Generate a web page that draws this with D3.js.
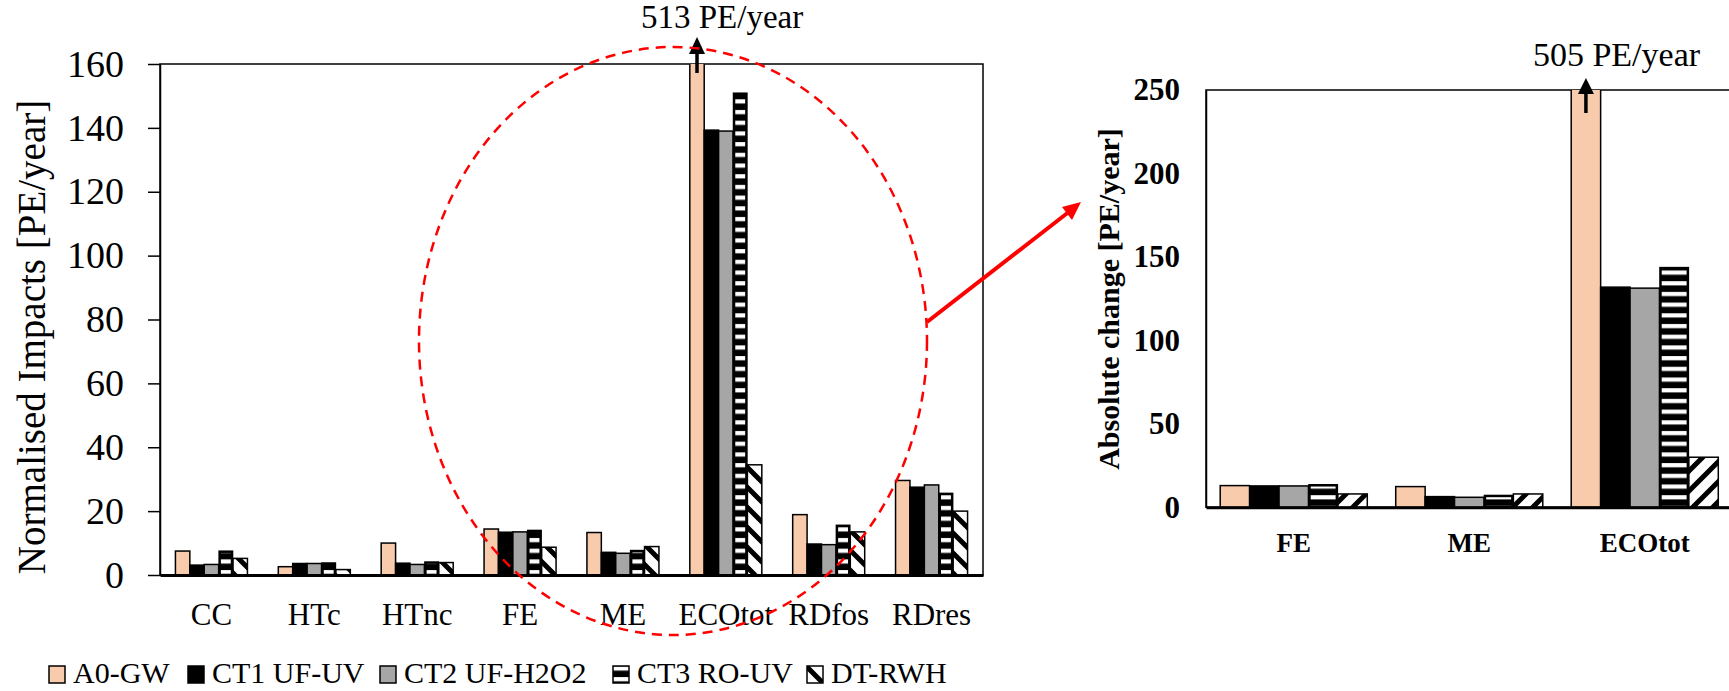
<!DOCTYPE html>
<html>
<head>
<meta charset="utf-8">
<script src="https://cdn.jsdelivr.net/npm/d3@7"></script>
<style>
  body { margin: 0; background: #fff; }
  text { font-family: "Liberation Serif", "Times New Roman", serif; }
</style>
</head>
<body>
<script>
// Normalised impacts (left) and absolute change (right) per scenario

const seriesNames = ["A0-GW", "CT1 UF-UV", "CT2 UF-H2O2", "CT3 RO-UV", "DT-RWH"];

const leftCategories = ["CC", "HTc", "HTnc", "FE", "ME", "ECOtot", "RDfos", "RDres"];
const leftA0  = [7.5, 2.6, 10.0, 14.4, 13.3, 513, 18.9, 29.6];
const leftCT1 = [3.1, 3.6, 3.7, 13.4, 7.1, 139.3, 9.7, 27.5];
const leftCT2 = [3.3, 3.6, 3.3, 13.5, 6.8, 139.0, 9.5, 28.2];
const leftCT3 = [7.3, 3.6, 3.9, 13.8, 7.5, 150.7, 15.4, 25.4];
const leftDT  = [5.2, 1.7, 3.9, 8.7, 8.9, 34.5, 13.5, 20.0];
const leftTicks = [0, 20, 40, 60, 80, 100, 120, 140, 160];

const rightCategories = ["FE", "ME", "ECOtot"];
const rightA0  = [13.0, 12.4, 505];
const rightCT1 = [12.8, 6.4, 131.9];
const rightCT2 = [12.8, 6.0, 131.3];
const rightCT3 = [13.2, 6.8, 143.3];
const rightDT  = [8.0, 8.0, 30.0];
const rightTicks = [0, 50, 100, 150, 200, 250];

const W = 1729, H = 691;
const svg = d3.select("body").append("svg").attr("width", W).attr("height", H);

// PATTERNS
const defs = svg.append("defs");
const hs = defs.append("pattern").attr("id", "hstripe")
  .attr("patternUnits", "userSpaceOnUse").attr("width", 10).attr("height", 10.7);
hs.append("rect").attr("width", 10).attr("height", 10.7).attr("fill", "#000");
hs.append("rect").attr("y", 3).attr("width", 10).attr("height", 4.2).attr("fill", "#fff");

function diag(id, back) {
  const p = defs.append("pattern").attr("id", id)
    .attr("patternUnits", "userSpaceOnUse").attr("width", 20).attr("height", 20);
  p.append("rect").attr("width", 20).attr("height", 20).attr("fill", "#fff");
  p.append("path")
    .attr("d", back ? "M0,0L20,20M-5,15L5,25M15,-5L25,5" : "M0,20L20,0M-5,5L5,-5M15,25L25,15")
    .attr("stroke", "#000").attr("stroke-width", 5);
}
diag("dback", true);
diag("dfwd", false);

function drawPanel(p) {
  const g = svg.append("g");
  const x0 = d3.scaleBand().domain(p.cats).range([p.left, p.right]);
  const bw = x0.bandwidth();
  const x1 = d3.scaleBand().domain(seriesNames).range([bw * p.groupPad, bw * (1 - p.groupPad)]);
  const y = d3.scaleLinear().domain([0, p.max]).range([p.bottom, p.top]);
  const fills = ["#F8CBAD", "#000", "#A6A6A6", "url(#hstripe)", "url(#" + p.dtPattern + ")"];

  // frame
  g.append("rect").attr("x", p.left).attr("y", p.top)
    .attr("width", p.right - p.left).attr("height", p.bottom - p.top)
    .attr("fill", "none").attr("stroke", "#000").attr("stroke-width", 1.5);

  // bars
  p.series.forEach((vals, si) => {
    vals.forEach((v, ci) => {
      const bx = x0(p.cats[ci]) + x1(seriesNames[si]);
      const w = x1.bandwidth();
      const clipped = v > p.max;
      const top = y(Math.min(v, p.max));
      const inset = si === 3 ? 1 : 0;
      g.append("rect").attr("x", bx + inset).attr("y", top)
        .attr("width", w - 2 * inset).attr("height", p.bottom - top)
        .attr("fill", fills[si])
        .attr("stroke", clipped ? "none" : "#000")
        .attr("stroke-width", si === 3 ? 2.5 : 1.5);
      if (clipped) {
        g.append("path")
          .attr("d", `M${bx},${top}V${p.bottom}H${bx + w}V${top}`)
          .attr("fill", "none").attr("stroke", "#000").attr("stroke-width", 1.5);
        const cx = bx + w / 2;
        g.append("line").attr("x1", cx).attr("x2", cx)
          .attr("y1", p.top + p.arrow.shaft).attr("y2", p.top + p.arrow.base)
          .attr("stroke", "#000").attr("stroke-width", 3.5);
        g.append("path")
          .attr("d", `M${cx},${p.top + p.arrow.tip}L${cx - 8},${p.top + p.arrow.base}L${cx + 8},${p.top + p.arrow.base}Z`)
          .attr("fill", "#000");
        g.append("text").attr("x", cx + p.arrow.textDx).attr("y", p.top + p.arrow.textDy)
          .style("font-size", p.arrow.fontSize + "px")
          .text(`${v} PE/year`);
      }
    });
  });

  // y axis
  const ya = g.append("g").attr("transform", `translate(${p.left},0)`)
    .call(d3.axisLeft(y).tickValues(p.ticks).tickSize(p.tickLen).tickSizeOuter(0).tickPadding(p.tickPad));
  ya.select(".domain").attr("stroke-width", 1.5);
  ya.selectAll(".tick line").attr("stroke-width", 1.5);
  ya.selectAll(".tick text")
    .style("font-family", "Liberation Serif").style("font-size", p.tickFont + "px")
    .style("font-weight", p.bold ? "bold" : "normal").attr("fill", "#000");

  // x axis
  const xa = g.append("g").attr("transform", `translate(0,${p.bottom})`)
    .call(d3.axisBottom(x0).tickSize(0).tickSizeOuter(0).tickPadding(p.xPad));
  xa.select(".domain").attr("stroke-width", 3);
  xa.selectAll(".tick text")
    .style("font-family", "Liberation Serif").style("font-size", p.xFont + "px")
    .style("font-weight", p.bold ? "bold" : "normal").attr("fill", "#000");

  // y title
  g.append("text")
    .attr("transform", `translate(${p.titleX},${p.titleY}) rotate(-90)`)
    .attr("text-anchor", "middle")
    .style("font-size", p.titleFont + "px")
    .style("font-weight", p.bold ? "bold" : "normal")
    .text(p.title);

  return { x0, y };
}

drawPanel({
  cats: leftCategories,
  series: [leftA0, leftCT1, leftCT2, leftCT3, leftDT],
  left: 160, right: 983, top: 64, bottom: 575, max: 160,
  groupPad: 0.15, dtPattern: "dback",
  ticks: leftTicks, tickLen: 12, tickPad: 24, tickFont: 38,
  xPad: 28, xFont: 31, bold: false,
  title: "Normalised Impacts [PE/year]", titleX: 45, titleY: 337, titleFont: 39,
  arrow: { shaft: 9, tip: -27, base: -10, textDx: -56, textDy: -36, fontSize: 33 }
});

drawPanel({
  cats: rightCategories,
  series: [rightA0, rightCT1, rightCT2, rightCT3, rightDT],
  left: 1206, right: 1732.5, top: 90, bottom: 507.3, max: 250,
  groupPad: 0.081, dtPattern: "dfwd",
  ticks: rightTicks, tickLen: 0, tickPad: 26, tickFont: 31,
  xPad: 26, xFont: 27, bold: true,
  title: "Absolute change [PE/year]", titleX: 1119, titleY: 299, titleFont: 30,
  arrow: { shaft: 23, tip: -12, base: 4, textDx: -53, textDy: -24, fontSize: 34 }
});

// zoom highlight: dashed ellipse and red arrow to the right panel
svg.append("ellipse")
  .attr("cx", 673).attr("cy", 341).attr("rx", 254).attr("ry", 294)
  .attr("fill", "none").attr("stroke", "#FF0000").attr("stroke-width", 2.5)
  .attr("stroke-dasharray", "10,7");
svg.append("line").attr("x1", 927).attr("y1", 322).attr("x2", 1070).attr("y2", 211)
  .attr("stroke", "#FF0000").attr("stroke-width", 4);
svg.append("path").attr("d", "M1081,202L1062,207L1072,220Z").attr("fill", "#FF0000");

// LEGEND
const legendFills = ["#F8CBAD", "#000", "#A6A6A6", "url(#hstripe)", "url(#dback)"];
const legendX = [49, 188, 380, 613, 807];
const legend = svg.append("g");
seriesNames.forEach((name, i) => {
  legend.append("rect").attr("x", legendX[i]).attr("y", 666).attr("width", 16).attr("height", 17)
    .attr("fill", legendFills[i]).attr("stroke", "#000").attr("stroke-width", 1.5);
  legend.append("text").attr("x", legendX[i] + 24).attr("y", 683)
    .style("font-size", "30px").text(name);
});
</script>
</body>
</html>
